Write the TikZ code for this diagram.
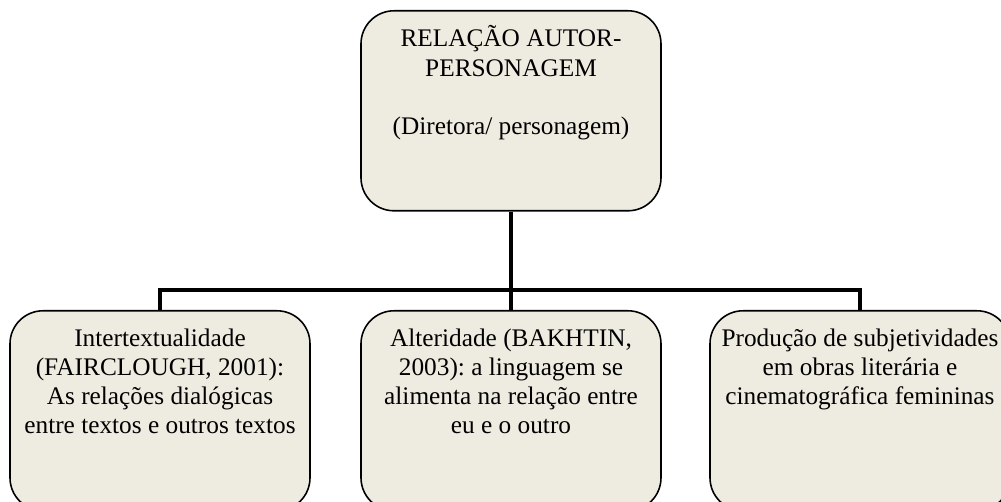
\documentclass[tikz,border=0pt]{standalone}
\usepackage{fontspec}
\setmainfont{Liberation Serif}
\usepackage{tikz}
\definecolor{tanbg}{HTML}{EEECE1}
\tikzset{
  topicbox/.style={draw, line width=0.9pt, rounded corners=0.66cm, fill=tanbg,
    inner xsep=0.1cm, inner ysep=0.3cm, anchor=north},
  bus/.style={line width=2.8pt}
}
\frenchspacing
\newcommand{\boxtext}[1]{\begin{minipage}[t][3.4cm][t]{5.8cm}
\centering\fontsize{14.4}{16.6}\selectfont\strut\ignorespaces #1
\end{minipage}}
\begin{document}
\begin{tikzpicture}[scale=1.0]
\useasboundingbox (0,0) rectangle (20.02,10.04);
% relacao autor-personagem
\node[topicbox] (autor) at (10.22,9.84) {\boxtext{
RELAÇÃO AUTOR-\\
PERSONAGEM\\[16.6pt]
(Diretora/ personagem)}};
% intertextualidade
\node[topicbox] (inter) at (3.2,3.84) {\boxtext{
Intertextualidade\\
(FAIRCLOUGH, 2001):\\
As relações dialógicas\\
entre textos e outros textos}};
% alteridade
\node[topicbox] (alter) at (10.22,3.84) {\boxtext{
Alteridade (BAKHTIN,\\
2003): a linguagem se\\
alimenta na relação entre\\
eu e o outro}};
% subjetividades
\node[topicbox] (subj) at (17.2,3.84) {\boxtext{
Produção de subjetividades\\
em obras literária e\\
cinematográfica femininas}};
% connectors
\coordinate (split) at (10.22,4.24);
\draw[bus] (autor.south) -- (split);
\draw[bus] (inter.north) |- (split) -| (subj.north);
\draw[bus] (split) -- (alter.north);
\end{tikzpicture}
\end{document}
